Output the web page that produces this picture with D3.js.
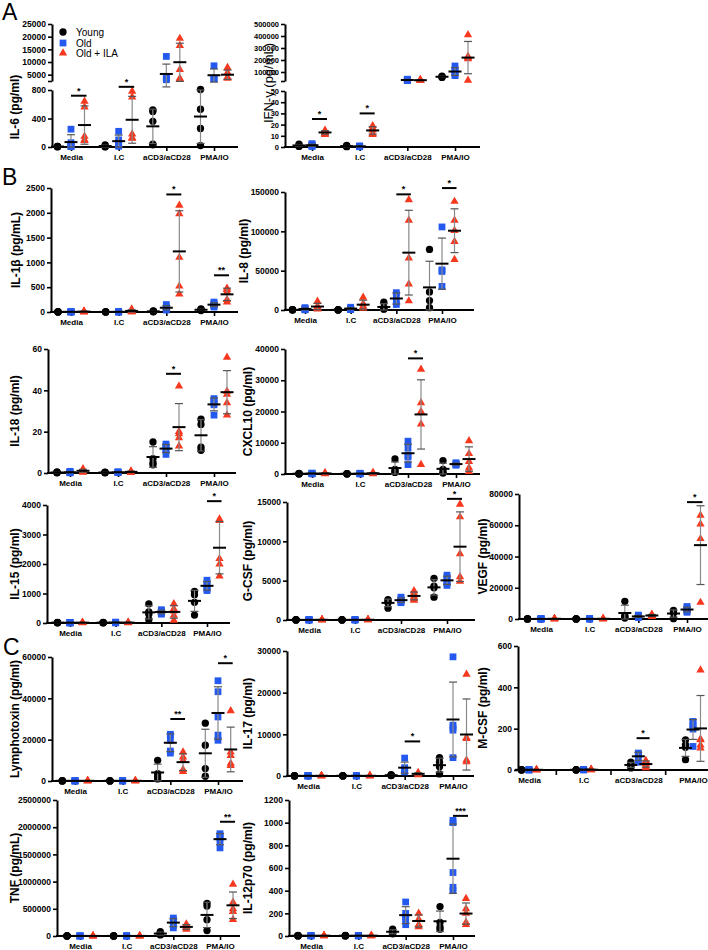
<!DOCTYPE html>
<html><head><meta charset="utf-8">
<script src="https://cdn.jsdelivr.net/npm/d3@7"></script>
<style>body{margin:0;background:#fff} svg{display:block} text{font-family:"Liberation Sans",Arial,sans-serif}</style>
</head><body><svg id="c" width="708" height="950"></svg>
<script>
const GROUPS = ["Media", "I.C", "aCD3/aCD28", "PMA/IO"];
const SERIES = ["Young", "Old", "Old + ILA"];

// ---- data: [Media, I.C, aCD3/aCD28, PMA/IO], each a list of replicate values ----
const IL6_young = [[8,5,3,10],[30,15,5,2],[520,500,360,40,30],[900,530,260,20]];
const IL6_old   = [[250,60,20,10,5],[220,100,60,20,10],[12200,4200,3700,3300,3000],[8500,3700,3500,3400]];
const IL6_ila   = [[640,560,150,100,90],[780,700,180,120,130],[19300,16500,7000,3500,3300],[7800,5800,4000,3800,3500]];
const IL6_stars = [[0,720,"*"],[1,1400,"*"]];

const IFNG_young = [[2.5,1.5,1,0.5],[1.5,1,0.5,0.3],[],[66000,62000,58000,55000]];
const IFNG_old   = [[3,2,1.5,1,0.5],[1,0.6,0.4,0.2],[40000,36000,33000,30000,28000],[150000,120000,100000,80000,70000]];
const IFNG_ila   = [[15,14,13,12,11],[19,17,15,12,11],[36000,33000,30000,28000],[410000,230000,220000,210000,30000]];
const IFNG_stars = [[0,25,"*"],[1,30,"*"]];

const IL1B_young = [[5,3,2,1],[4,3,2,1],[20,15,10,5],[60,50,40,30]];
const IL1B_old   = [[10,5,3,2,1],[8,5,3,2,1],[150,100,80,60,40],[200,170,150,120,100]];
const IL1B_ila   = [[20,10,5,3,2],[60,30,10,5,3],[2150,1980,1100,520,360],[480,450,400,250,200]];
const IL1B_stars = [[2,2370,"*"],[3,740,"**"]];

const IL8_young = [[500,300,200,100],[300,200,100,50],[10000,3000,1500,1000],[77000,23000,12000,3000]];
const IL8_old   = [[3000,2000,1000,500,200],[3500,2000,1000,500],[22000,19000,10500,7000],[105600,51000,49000,30000]];
const IL8_ila   = [[11000,5000,3000,2000,1000],[16000,8000,5000,3000,2000],[140000,114000,66000,33000,11500],[138000,114000,101000,87000,64000]];
const IL8_stars = [[2,147000,"*"],[3,155000,"*"]];

const IL18_young = [[0.5,0.3,0.2,0.1],[0.4,0.3,0.2,0.1],[15,7,5,4],[26,23.5,12.5,11]];
const IL18_old   = [[0.8,0.5,0.3,0.2,0.1],[0.6,0.4,0.3,0.2],[14,13,12,11,9],[36,34,33,35,28]];
const IL18_ila   = [[2,1.5,1,0.5,0.3],[1,0.6,0.4,0.2],[42,20,19,17,13],[56,39.5,38,34,28]];
const IL18_stars = [[2,48,"*"]];

const CXCL10_young = [[200,100,50,20],[150,100,50,20],[4800,1500,800,500],[4300,1500,500,300]];
const CXCL10_old   = [[300,200,100,50],[250,150,80,40],[10500,8300,6000,5400,3000],[3600,3300,3000,2800]];
const CXCL10_ila   = [[400,200,100,50],[500,300,100,50],[33500,22800,20000,16000,3000],[10600,6500,4000,2000,800]];
const CXCL10_stars = [[2,37000,"*"]];

const IL15_young = [[20,15,10,5],[20,15,10,5],[650,380,300,110],[1070,960,700,270]];
const IL15_old   = [[20,15,10,5,3],[30,20,10,5],[450,420,370,330,300],[1450,1350,1250,1150,1100]];
const IL15_ila   = [[20,15,10,5],[25,15,10,5],[650,480,400,260,90],[3520,3470,2180,2000,1590]];
const IL15_stars = [[3,4130,"*"]];

const GCSF_young = [[30,20,10,5],[30,20,10,5],[2600,2400,2200,1500],[5300,4300,4100,2900]];
const GCSF_old   = [[40,30,20,10,5],[40,30,20,10],[2900,2700,2500,2300,2200],[5700,5400,5000,4700,4400]];
const GCSF_ila   = [[50,30,20,10],[60,40,20,10],[3700,3400,3000,2700,2500],[14700,13100,8400,5500,4900]];
const GCSF_stars = [[3,15400,"*"]];

const VEGF_young = [[100,50,30,20],[100,50,30,20],[11300,2000,1500,600],[5500,4500,3800,200]];
const VEGF_old   = [[200,100,50,30,20],[200,100,50,30],[2500,2000,1500,1200,1000],[8000,7000,6000,5000,4300]];
const VEGF_ila   = [[300,150,80,40],[300,150,80,40],[3000,2500,2000,1500],[66300,60800,51400,10600]];
const VEGF_stars = [[3,74800,"*"]];

const LT_young = [[200,100,50,20],[200,100,50,20],[10000,3500,2000,1000],[28000,17300,6000,2300]];
const LT_old   = [[200,100,50,30,20],[200,100,50,30],[22600,22200,19700,14500,13500],[48500,43200,31000,22200,19700]];
const LT_ila   = [[200,100,50,30],[200,100,50,30],[14000,11600,10000,5500,4500],[34000,14000,12300,8500,7500]];
const LT_stars = [[2,30000,"**"],[3,57000,"*"]];

const IL17_young = [[100,50,30,20],[100,50,30,20],[300,200,150,100],[4400,3300,2200,500]];
const IL17_old   = [[100,50,30,20,10],[100,50,30,20],[4300,2000,1500,1200,1000],[28600,12200,11600,11000,4400]];
const IL17_ila   = [[100,50,30,20],[100,50,30,20],[800,600,400,300],[24400,9200,9000,3800,3400]];
const IL17_stars = [[2,8300,"*"]];

const MCSF_young = [[2,1,0.5,0.3],[2,1,0.5,0.3],[38,30,20,10],[146,122,110,50]];
const MCSF_old   = [[2,1,0.5,0.3],[3,2,1,0.5],[82,75,70,38],[235,222,210,198,114]];
const MCSF_ila   = [[2,1,0.5,0.3],[3,2,1,0.5],[46,40,30,18,10],[484,150,146,120,106]];
const MCSF_stars = [[2,154,"*"]];

const TNF_young = [[3000,2000,1000,500],[3000,2000,1000,500],[80000,50000,30000,20000],[600000,550000,300000,100000]];
const TNF_old   = [[3000,2000,1000,500],[3000,2000,1000,500],[330000,300000,250000,200000,150000],[1880000,1850000,1800000,1750000,1620000]];
const TNF_ila   = [[3000,2000,1000,500],[3000,2000,1000,500],[220000,180000,150000,120000],[950000,620000,500000,450000,300000]];
const TNF_stars = [[3,2100000,"**"]];

const IL12_young = [[5,3,2,1],[5,3,2,1],[60,40,30,20],[260,120,80,60]];
const IL12_old   = [[5,3,2,1],[5,3,2,1],[300,200,170,150,100],[1020,1000,560,430,400]];
const IL12_ila   = [[5,3,2,1],[5,3,2,1],[200,150,100,80],[330,240,200,120,100]];
const IL12_stars = [[3,1060,"***"]];

// ---- layout ----
const PANELS = [
  {label:"IL-6 (pg/ml)", lx:15, ly:107, data:[IL6_young,IL6_old,IL6_ila], stars:IL6_stars,
   x0:52, x1:238, c0:71, c3:214, dx:13.5,
   broken:true, lowDom:[0,800], lowRange:[147,90], lowTicks:[0,400,800],
   highDom:[2500,25000], highRange:[81,24], highTicks:[5000,10000,15000,20000,25000]},
  {label:"IFN-γ (pg/mL)", lx:268, ly:83, bold:false, fs:13, tfs:7.5, data:[IFNG_young,IFNG_old,IFNG_ila], stars:IFNG_stars,
   x0:285, x1:480, c0:312, c3:455, dx:13,
   broken:true, lowDom:[0,50], lowRange:[147,91], lowTicks:[0,10,20,30,40,50],
   highDom:[25000,500000], highRange:[81,24], highTicks:[100000,200000,300000,400000,500000]},
  {label:"IL-1β (pg/mL)", lx:16, data:[IL1B_young,IL1B_old,IL1B_ila], stars:IL1B_stars,
   x0:51, x1:238, c0:71, c3:214, dx:13, dom:[0,2500], range:[312,188], ticks:[0,500,1000,1500,2000,2500]},
  {label:"IL-8 (pg/ml)", lx:244, data:[IL8_young,IL8_old,IL8_ila], stars:IL8_stars,
   x0:285, x1:474, c0:305, c3:442, dx:12.5, dom:[0,150000], range:[310,192], ticks:[0,50000,100000,150000]},
  {label:"IL-18 (pg/ml)", lx:15, data:[IL18_young,IL18_old,IL18_ila], stars:IL18_stars,
   x0:48, x1:236, c0:70, c3:214, dx:13, dom:[0,60], range:[473,349], ticks:[0,20,40,60]},
  {label:"CXCL10 (pg/ml)", lx:248, data:[CXCL10_young,CXCL10_old,CXCL10_ila], stars:CXCL10_stars,
   x0:285, x1:480, c0:312, c3:456, dx:13, dom:[0,40000], range:[474,349], ticks:[0,10000,20000,30000,40000]},
  {label:"IL-15 (pg/ml)", lx:15, data:[IL15_young,IL15_old,IL15_ila], stars:IL15_stars,
   x0:47, x1:230, c0:70, c3:207, dx:12.5, dom:[0,4000], range:[623,505], ticks:[0,1000,2000,3000,4000]},
  {label:"G-CSF (pg/ml)", lx:248, data:[GCSF_young,GCSF_old,GCSF_ila], stars:GCSF_stars,
   x0:287, x1:475, c0:309, c3:447, dx:13, dom:[0,15000], range:[620,502], ticks:[0,5000,10000,15000]},
  {label:"VEGF (pg/ml)", lx:483, data:[VEGF_young,VEGF_old,VEGF_ila], stars:VEGF_stars,
   x0:519, x1:708, c0:541, c3:687, dx:13.5, dom:[0,80000], range:[619,494], ticks:[0,20000,40000,60000,80000]},
  {label:"Lymphotoxin (pg/ml)", lx:15, data:[LT_young,LT_old,LT_ila], stars:LT_stars,
   x0:52, x1:243, c0:75, c3:218, dx:12.7, dom:[0,60000], range:[781,657], ticks:[0,20000,40000,60000]},
  {label:"IL-17 (pg/ml)", lx:248, data:[IL17_young,IL17_old,IL17_ila], stars:IL17_stars,
   x0:287, x1:474, c0:308, c3:453, dx:13.5, dom:[0,30000], range:[776,651], ticks:[0,10000,20000,30000]},
  {label:"M-CSF (pg/ml)", lx:483, data:[MCSF_young,MCSF_old,MCSF_ila], stars:MCSF_stars, between:true,
   x0:518, x1:708, c0:529, c3:693, dx:7.5, dom:[0,600], range:[770,646], ticks:[0,200,400,600]},
  {label:"TNF (pg/mL)", lx:15, data:[TNF_young,TNF_old,TNF_ila], stars:TNF_stars,
   x0:57, x1:240, c0:80, c3:220, dx:13, dom:[0,2500000], range:[936,800], ticks:[0,500000,1000000,1500000,2000000,2500000]},
  {label:"IL-12p70 (pg/ml)", lx:248, data:[IL12_young,IL12_old,IL12_ila], stars:IL12_stars,
   x0:289, x1:475, c0:311, c3:453, dx:13, dom:[0,1200], range:[936,800], ticks:[0,200,400,600,800,1000,1200]}
];

const COLORS = ["#000000", "#2359EE", "#F5381E"];
const SYMS = [d3.symbolCircle, d3.symbolSquare, d3.symbolTriangle];
const SIZES = [42, 46, 30];

const svg = d3.select("#c");

function sdev(a){ if(a.length<2) return 0; const m=d3.mean(a); return Math.sqrt(d3.sum(a,v=>(v-m)**2)/(a.length-1)); }

function makeY(p){
  if(p.broken){
    const lo=d3.scaleLinear().domain(p.lowDom).range(p.lowRange);
    const hi=d3.scaleLinear().domain(p.highDom).range(p.highRange);
    const gap=d3.scaleLinear().domain([p.lowDom[1],p.highDom[0]]).range([p.lowRange[1],p.highRange[0]]);
    const f=v=> v<=p.lowDom[1]? lo(v) : (v>=p.highDom[0]? hi(v) : gap(v));
    f.lo=lo; f.hi=hi;
    return f;
  }
  return d3.scaleLinear().domain(p.dom).range(p.range);
}

function styleAxis(sel, tfs){
  sel.select(".domain").attr("stroke","#000").attr("stroke-width",2);
  sel.selectAll(".tick line").attr("stroke","#000").attr("stroke-width",1.6);
  sel.selectAll(".tick text").attr("font-size",tfs||8.5).attr("font-weight","bold").attr("fill","#000")
     .attr("font-family",'"Liberation Sans",Arial,sans-serif');
}

PANELS.forEach(p=>{
  const g = svg.append("g");
  const y = makeY(p);
  const y0 = p.broken ? p.lowRange[0] : p.range[0];
  const yTop = p.broken ? p.highRange[1] : p.range[1];
  const xg = d3.scalePoint().domain(GROUPS).range([p.c0,p.c3]);
  const xs = d3.scalePoint().domain(SERIES).range([-p.dx,p.dx]);
  const fmt = d3.format("d");

  // y axis
  if(p.broken){
    const a1 = g.append("g").attr("transform",`translate(${p.x0},0)`)
      .call(d3.axisLeft(y.lo).tickValues(p.lowTicks).tickSize(4).tickSizeOuter(0).tickPadding(2).tickFormat(fmt));
    styleAxis(a1, p.tfs);
    const a2 = g.append("g").attr("transform",`translate(${p.x0},0)`)
      .call(d3.axisLeft(y.hi).tickValues([p.highDom[0]].concat(p.highTicks)).tickSize(4).tickSizeOuter(0).tickPadding(2)
        .tickFormat(d=> d===p.highDom[0] ? "" : fmt(d)));
    styleAxis(a2, p.tfs);
  } else {
    const a = g.append("g").attr("transform",`translate(${p.x0},0)`)
      .call(d3.axisLeft(y).tickValues(p.ticks).tickSize(4).tickSizeOuter(0).tickPadding(2).tickFormat(fmt));
    styleAxis(a, p.tfs);
  }

  // x axis
  g.append("line").attr("x1",p.x0-1).attr("x2",p.x1).attr("y1",y0).attr("y2",y0)
    .attr("stroke","#000").attr("stroke-width",2);
  const xa = g.append("g").attr("transform",`translate(0,${y0})`)
    .call(d3.axisBottom(xg).tickSize(p.between?0:4).tickPadding(p.between?7:3).tickSizeOuter(0));
  xa.select(".domain").remove();
  styleAxis(xa);
  xa.selectAll(".tick text").attr("font-size",8);
  if(p.between){
    for(let i=0;i<3;i++){
      const xm=(xg(GROUPS[i])+xg(GROUPS[i+1]))/2;
      g.append("line").attr("x1",xm).attr("x2",xm).attr("y1",y0).attr("y2",y0+5).attr("stroke","#000").attr("stroke-width",1.6);
    }
  }

  // y label
  const fs = p.fs || 12;
  const ly = p.ly || (y0+yTop)/2;
  g.append("text").attr("transform",`translate(${p.lx+fs*0.36},${ly}) rotate(-90)`)
    .attr("text-anchor","middle").attr("font-size",fs).attr("font-weight",p.bold===false?"normal":"bold")
    .text(p.label);

  // points
  p.data.forEach((arr,si)=>{
    arr.forEach((vals,gi)=>{
      const cx = xg(GROUPS[gi]) + xs(SERIES[si]);
      g.selectAll(null).data(vals).enter().append("path")
        .attr("d", d3.symbol(SYMS[si], SIZES[si])())
        .attr("transform", v=>`translate(${cx},${y(v)})`)
        .attr("fill", COLORS[si]);
    });
  });

  // mean +/- SD
  p.data.forEach((arr,si)=>{
    arr.forEach((vals,gi)=>{
      if(!vals.length) return;
      const cx = xg(GROUPS[gi]) + xs(SERIES[si]);
      const m = d3.mean(vals), s = sdev(vals);
      const lo = Math.max(0, m - s), hi = m + s;
      if(s>0){
        g.append("line").attr("x1",cx).attr("x2",cx).attr("y1",y(lo)).attr("y2",y(hi))
          .attr("stroke","#8a8a8a").attr("stroke-width",1.2);
        [lo,hi].forEach(v=> g.append("line").attr("x1",cx-4).attr("x2",cx+4).attr("y1",y(v)).attr("y2",y(v))
          .attr("stroke","#555").attr("stroke-width",1.2));
      }
      const hw = Math.min(6.5, p.dx*0.9);
      g.append("line").attr("x1",cx-hw).attr("x2",cx+hw).attr("y1",y(m)).attr("y2",y(m))
        .attr("stroke","#000").attr("stroke-width",2);
    });
  });

  // significance marks
  p.stars.forEach(([gi,level,txt])=>{
    const xo = xg(GROUPS[gi]) + xs(SERIES[1]), xi = xg(GROUPS[gi]) + xs(SERIES[2]);
    const xc = (xo+xi)/2 + 1, hw = Math.max(6.5,(xi-xo)/2+1);
    g.append("line").attr("x1",xc-hw).attr("x2",xc+hw).attr("y1",y(level)).attr("y2",y(level))
      .attr("stroke","#000").attr("stroke-width",2);
    g.append("text").attr("x",xc).attr("y",y(level)-2).attr("text-anchor","middle")
      .attr("font-size",9).attr("font-weight","bold").text(txt);
  });
});

// legend (panel A)
const legend = svg.append("g");
SERIES.forEach((s,i)=>{
  const yy = [32,43,53][i];
  legend.append("path").attr("d",d3.symbol(SYMS[i],SIZES[i])()).attr("transform",`translate(63,${yy})`).attr("fill",COLORS[i]);
  legend.append("text").attr("x",76).attr("y",yy+3.5).attr("font-size",10).text(s);
});

// panel letters
[["A",2,20],["B",2,185],["C",3,655]].forEach(([t,x,yy])=>{
  svg.append("text").attr("x",x).attr("y",yy).attr("font-size",23).text(t);
});
</script></body></html>
